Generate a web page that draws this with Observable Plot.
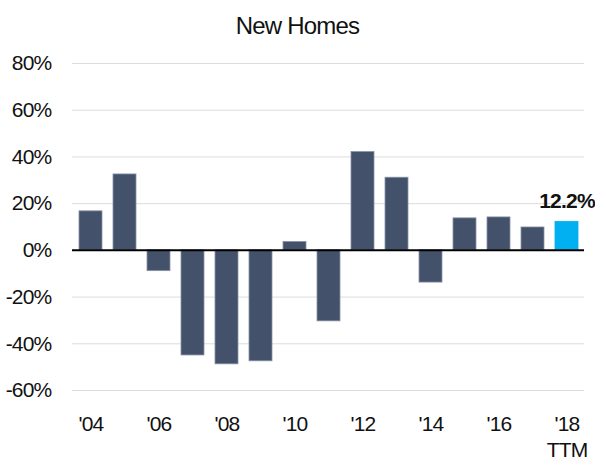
<!DOCTYPE html>
<html>
<head>
<meta charset="utf-8">
<script src="https://cdn.jsdelivr.net/npm/d3@7"></script>
<script src="https://cdn.jsdelivr.net/npm/@observablehq/plot@0.6"></script>
<style>
  body { margin: 0; background: #fff; }
</style>
</head>
<body>
<div id="chart"></div>
<script>
const title = "New Homes";
const years = ["2004","2005","2006","2007","2008","2009","2010","2011","2012","2013","2014","2015","2016","2017","2018"];
const values = [16.7, 32.5, -8.9, -45.0, -48.8, -47.5, 3.6, -30.4, 42.1, 31.1, -13.8, 13.7, 14.1, 9.8, 12.2];
const yTicks = [-60, -40, -20, 0, 20, 40, 60, 80];
const highlightYear = "2018";
const highlightLabel = "12.2%";
const lastSuffix = "TTM";

const data = years.map((y, i) => ({year: y, value: values[i]}));
const labelOf = (y) => {
  const n = +y;
  if (n % 2 !== 0) return null;
  const s = "'" + y.slice(2);
  return y === highlightYear ? s + "\n" + lastSuffix : s;
};

const font = "'Liberation Sans', Arial, Helvetica, sans-serif";

const chart = Plot.plot({
  width: 595,
  height: 460,
  marginTop: 63,
  marginBottom: 70,
  marginLeft: 72,
  marginRight: 11,
  style: {fontFamily: font, fontSize: "21px", color: "#111", background: "#fff", overflow: "visible"},
  x: {domain: years, paddingInner: 0.327, paddingOuter: 0.155, label: null},
  y: {domain: [-60, 80], label: null},
  marks: [
    Plot.gridY(yTicks.filter(d => d !== 0), {stroke: "#dcdcdc", strokeOpacity: 1, strokeWidth: 1}),
    Plot.barY(data, {
      x: "year", y: "value",
      fill: d => d.year === highlightYear ? "#00b0f0" : "#44516a",
      stroke: d => d.year === highlightYear ? "#00b0f0" : "#8793a8",
      strokeWidth: 0.8
    }),
    Plot.ruleY([0], {stroke: "#000", strokeWidth: 2}),
    Plot.axisY({ticks: yTicks, tickSize: 0, tickPadding: 21, tickFormat: d => d + "%", fontSize: 21, fill: "#111"}),
    Plot.axisX({tickSize: 0, tickPadding: 21, tickFormat: labelOf, fontSize: 21, lineHeight: 1.28, fill: "#111"}),
    Plot.text(data.filter(d => d.year === highlightYear), {
      x: "year", y: "value", text: () => highlightLabel,
      lineAnchor: "bottom", dy: -13.5, fontWeight: "bold", fontSize: 21, fill: "#111"
    }),
    Plot.text([title], {
      frameAnchor: "top", text: d => d, lineAnchor: "bottom",
      dx: -31, dy: -30, fontSize: 24, fill: "#111"
    })
  ]
});
chart.querySelectorAll("text").forEach(t => t.style.letterSpacing = "-0.8px");
document.getElementById("chart").appendChild(chart);
</script>
</body>
</html>
